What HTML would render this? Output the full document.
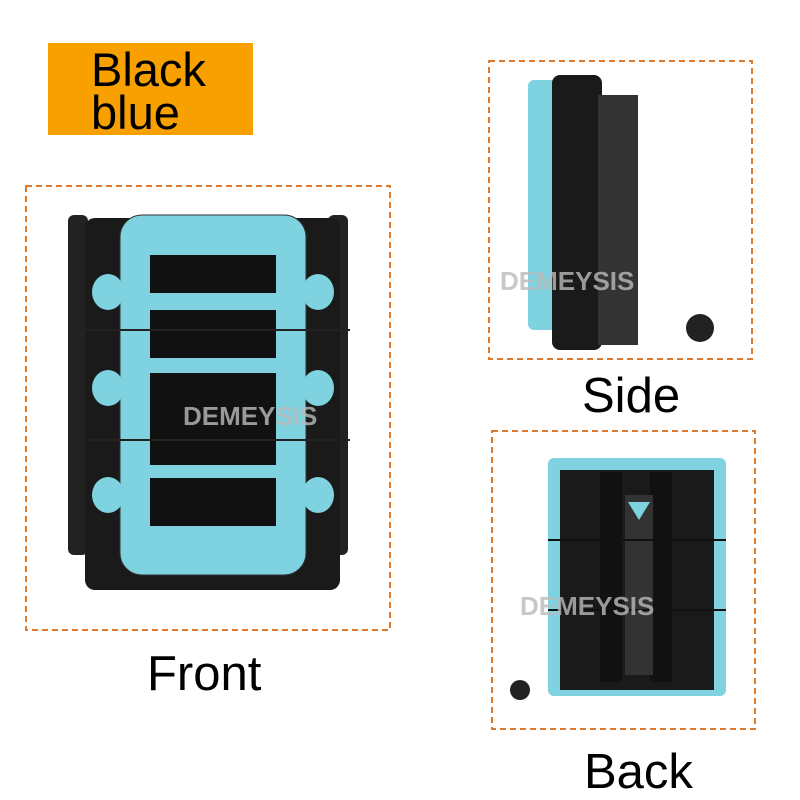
<!DOCTYPE html>
<html><head><meta charset="utf-8"><style>
html,body{margin:0;padding:0;background:#fff;width:800px;height:800px;overflow:hidden}
.t{position:absolute;font-family:"Liberation Sans",sans-serif;color:#000;font-size:49px;line-height:1}
</style></head><body>
<div style="position:absolute;left:48px;top:43px;width:205px;height:92px;background:#f7a000"></div>
<div class="t" style="left:91px;top:48px;font-size:47px;line-height:43px">Black<br>blue</div>
<svg width="800" height="800" style="position:absolute;left:0;top:0">
<g fill="none" stroke="#e07a2a" stroke-width="2" stroke-dasharray="6,4">
<rect x="26" y="186" width="364" height="444"/>
<rect x="489" y="61" width="263" height="298"/>
<rect x="492" y="431" width="263" height="298"/>
</g>
<rect x="68" y="215" width="20" height="340" rx="6" fill="#222"/>
<rect x="328" y="215" width="20" height="340" rx="6" fill="#222"/>
<rect x="85" y="218" width="255" height="372" rx="10" fill="#1a1a1a"/>
<rect x="120" y="215" width="186" height="360" rx="22" fill="#7fd3e0" stroke="#333" stroke-width="1"/>
<rect x="150" y="255" width="126" height="38" fill="#111"/>
<rect x="150" y="310" width="126" height="48" fill="#111"/>
<rect x="150" y="373" width="126" height="92" fill="#111"/>
<rect x="150" y="478" width="126" height="48" fill="#111"/>
<g fill="#7fd3e0">
<ellipse cx="108" cy="292" rx="16" ry="18"/><ellipse cx="108" cy="388" rx="16" ry="18"/><ellipse cx="108" cy="495" rx="16" ry="18"/>
<ellipse cx="318" cy="292" rx="16" ry="18"/><ellipse cx="318" cy="388" rx="16" ry="18"/><ellipse cx="318" cy="495" rx="16" ry="18"/>
</g>
<g stroke="#222" stroke-width="2"><line x1="70" y1="330" x2="350" y2="330"/><line x1="70" y1="440" x2="350" y2="440"/></g>
<rect x="528" y="80" width="30" height="250" rx="6" fill="#7fd3e0"/>
<rect x="552" y="75" width="50" height="275" rx="8" fill="#1a1a1a"/>
<rect x="598" y="95" width="40" height="250" fill="#333"/>
<circle cx="700" cy="328" r="14" fill="#222"/>
<rect x="548" y="458" width="178" height="238" rx="6" fill="#7fd3e0"/>
<rect x="560" y="470" width="154" height="220" fill="#1a1a1a"/>
<rect x="600" y="472" width="22" height="210" fill="#111"/>
<rect x="650" y="472" width="22" height="210" fill="#111"/>
<rect x="625" y="495" width="28" height="180" fill="#333"/>
<polygon points="628,502 650,502 639,520" fill="#7fd3e0"/>
<g stroke="#111" stroke-width="2"><line x1="548" y1="540" x2="726" y2="540"/><line x1="548" y1="610" x2="726" y2="610"/></g>
<circle cx="520" cy="690" r="10" fill="#222"/>
<g font-family="Liberation Sans,sans-serif" font-weight="bold" fill="#bbb" opacity="0.8" font-size="26">
<text x="183" y="425">DEMEYSIS</text>
<text x="500" y="290">DEMEYSIS</text>
<text x="520" y="615">DEMEYSIS</text>
</g>
</svg>
<div class="t" style="left:147px;top:650px">Front</div>
<div class="t" style="left:582px;top:372px">Side</div>
<div class="t" style="left:584px;top:748px">Back</div>
</body></html>
